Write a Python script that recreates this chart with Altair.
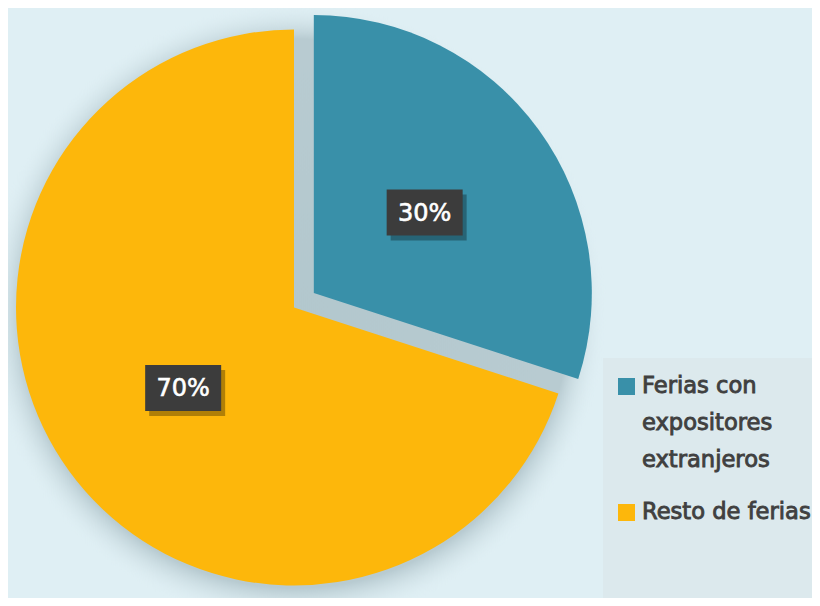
import altair as alt
import pandas as pd

# ---- data ----
categorias = ["Ferias con expositores extranjeros", "Resto de ferias"]
porcentajes = [30, 70]
etiquetas = ["30%", "70%"]
leyenda_lineas = [["Ferias con", "expositores", "extranjeros"], ["Resto de ferias"]]
colores = ["#3990A9", "#FDB70B"]

# ---- layout constants ----
W, H = 804, 590
CX, CY = 286, 299.5
R = 278
SEP = 24.5        # explode distance of the first slice
RL = 137          # label radius
FONT = "DejaVu Sans"

df = pd.DataFrame({
    "categoria": categorias,
    "valor": porcentajes,
    "etiqueta": etiquetas,
    "orden": list(range(len(categorias))),
})
df_ley = pd.DataFrame({"categoria": categorias, "lineas": leyenda_lineas})
one = pd.DataFrame({"k": [0]})

color_scale = alt.Scale(domain=categorias, range=colores)

base = (
    alt.Chart(df)
    .transform_window(fin="sum(valor)", sort=[alt.SortField("orden")], frame=[None, 0])
    .transform_calculate(inicio="datum.fin - datum.valor")
    .transform_calculate(ang="(datum.inicio + datum.fin) / 100 * PI")
    .transform_calculate(sep=f"datum.orden == 0 ? {SEP} : 0")
    .transform_calculate(cx=f"{CX} + datum.sep * sin(datum.ang)")
    .transform_calculate(cy=f"{CY} - datum.sep * cos(datum.ang)")
    .transform_calculate(lx=f"datum.cx + {RL} * sin(datum.ang)")
    .transform_calculate(ly=f"datum.cy - {RL} * cos(datum.ang)")
)

# soft shadow around the pie
sombra = alt.Chart(one).mark_arc(
    radius=R + 34,
    theta=0,
    theta2=6.2832,
    fill=alt.RadialGradient(
        gradient="radial",
        x1=0.5, y1=0.5, r1=0, x2=0.5, y2=0.5, r2=0.5,
        stops=[
            alt.GradientStop(offset=0, color="#b2c7cd"),
            alt.GradientStop(offset=0.88, color="#b8cbd1"),
            alt.GradientStop(offset=1, color="rgba(223,239,244,0)"),
        ],
    ),
).encode(x=alt.value(CX + 1), y=alt.value(CY + 6))

arcos = base.mark_arc(radius=R, stroke=None).encode(
    theta=alt.Theta("inicio:Q", scale=alt.Scale(domain=[0, 100])),
    theta2="fin:Q",
    x=alt.X("cx:Q", scale=None),
    y=alt.Y("cy:Q", scale=None),
    color=alt.Color("categoria:N", scale=color_scale, legend=None),
)

caja_path = "M-1.652,-1L1.652,-1L1.652,1L-1.652,1Z"
caja_sombra = base.mark_point(
    shape=caja_path, size=2116, filled=True, color="#000000", opacity=0.3,
    xOffset=4, yOffset=5,
).encode(x=alt.X("lx:Q", scale=None), y=alt.Y("ly:Q", scale=None))
caja = base.mark_point(
    shape=caja_path, size=2116, filled=True, color="#3c3c3c", opacity=1,
).encode(x=alt.X("lx:Q", scale=None), y=alt.Y("ly:Q", scale=None))
texto = base.mark_text(
    font=FONT, fontSize=24, color="#ffffff", stroke="#ffffff", strokeWidth=0.6,
    align="center", baseline="middle", dy=1,
).encode(x=alt.X("lx:Q", scale=None), y=alt.Y("ly:Q", scale=None), text="etiqueta:N")

# legend panel
panel = alt.Chart(one).mark_rect(color="#dce9ed").encode(
    x=alt.value(595), x2=alt.value(W), y=alt.value(350), y2=alt.value(H)
)
ley_y = alt.Y("categoria:N", axis=None,
              scale=alt.Scale(type="point", domain=categorias, range=[378.5, 504.5], padding=0))
ley_sym = alt.Chart(df_ley).mark_point(shape="square", size=289, filled=True, opacity=1).encode(
    x=alt.value(618.5), y=ley_y,
    color=alt.Color("categoria:N", scale=color_scale, legend=None),
)
ley_txt = alt.Chart(df_ley).mark_text(
    font=FONT, fontSize=22.6, color="#404040", stroke="#404040", strokeWidth=0.9,
    align="left", baseline="alphabetic", lineHeight=37, dy=6,
).encode(x=alt.value(634), y=ley_y, text="lineas")

chart = (
    alt.layer(sombra, arcos, caja_sombra, caja, texto, panel, ley_sym, ley_txt)
    .resolve_scale(x="independent", y="independent", color="shared")
    .properties(width=W, height=H, padding=0, autosize="none", background="#dfeff4")
    .configure_view(stroke=None)
)

chart.save("out.html", embed_options={"renderer": "svg", "actions": False})
